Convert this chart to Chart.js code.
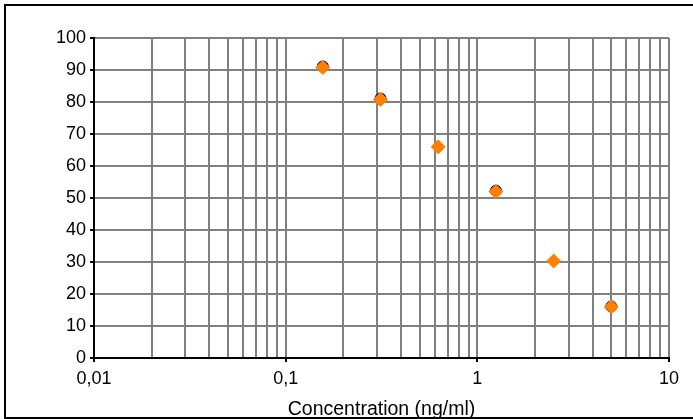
<!DOCTYPE html>
<html>
<head>
<meta charset="utf-8">
<script src="https://cdn.jsdelivr.net/npm/chart.js@4/dist/chart.umd.min.js"></script>
<style>
  body { margin: 0; background: #fff; }
  #frame {
    position: absolute; left: 4px; top: 4px; width: 689px; height: 411px;
    border-top: 2px solid #000; border-left: 2px solid #000; border-bottom: 2px solid #000;
  }
  #chart { position: absolute; left: 0; top: 0; }
</style>
</head>
<body>
<div id="frame"></div>
<canvas id="chart" width="693" height="419"></canvas>
<script>
// concentrations (ng/ml)
var concOrange = [0.15625, 0.3125, 0.625, 1.25, 2.5, 5];
var valuesOrange = [90.8, 80.8, 66.0, 52.0, 30.3, 16.0];
var concBlue = [0.15625, 0.3125, 1.25, 5];
var valuesBlue = [91.1, 81.1, 52.3, 16.1];

// log axis grid positions and labels
var xTickValues = [0.01, 0.02, 0.03, 0.04, 0.05, 0.06, 0.07, 0.08, 0.09,
                   0.1, 0.2, 0.3, 0.4, 0.5, 0.6, 0.7, 0.8, 0.9,
                   1, 2, 3, 4, 5, 6, 7, 8, 9, 10];
var xMajorValues = [0.01, 0.1, 1, 10];
var xMajorLabels = ['0,01', '0,1', '1', '10'];

function toPoints(xs, ys) {
  return xs.map(function(x, i) { return { x: x, y: ys[i] }; });
}

function isMajor(v) {
  return xMajorValues.some(function(m) { return Math.abs(m - v) < 1e-9; });
}

var fontFamily = 'Liberation Sans, Arial, sans-serif';

var ctx = document.getElementById('chart').getContext('2d');
var myChart = new Chart(ctx, {
  type: 'scatter',
  data: {
    // first dataset is drawn on top
    datasets: [{
      label: 'Orange',
      data: toPoints(concOrange, valuesOrange),
      pointStyle: 'rectRot',
      pointRadius: 7,
      pointHoverRadius: 7,
      backgroundColor: '#FF8000',
      borderColor: '#FF8000',
      borderWidth: 1
    }, {
      label: 'Blue',
      data: toPoints(concBlue, valuesBlue),
      pointStyle: 'circle',
      pointRadius: 5.5,
      pointHoverRadius: 5.5,
      backgroundColor: '#3333AA',
      borderColor: '#000080',
      borderWidth: 1
    }]
  },
  options: {
    responsive: false,
    animation: false,
    layout: { padding: { left: 0, top: 38, right: 24, bottom: 0 } },
    plugins: {
      legend: { display: false },
      tooltip: { enabled: false }
    },
    scales: {
      x: {
        type: 'logarithmic',
        position: 'bottom',
        min: 0.01,
        max: 10,
        afterBuildTicks: function(scale) {
          scale.ticks = xTickValues.map(function(v) {
            return { value: v, major: isMajor(v) };
          });
        },
        afterFit: function(scale) { scale.height = 61; },
        ticks: {
          autoSkip: false,
          maxRotation: 0,
          padding: 6,
          color: '#000',
          font: { family: fontFamily, size: 18 },
          callback: function(value) {
            for (var i = 0; i < xMajorValues.length; i++) {
              if (Math.abs(xMajorValues[i] - value) < 1e-9) return xMajorLabels[i];
            }
            return '';
          }
        },
        grid: {
          color: '#808080',
          lineWidth: 2,
          tickLength: 4,
          tickColor: function(c) {
            return c.tick && isMajor(c.tick.value) ? '#000' : 'rgba(0,0,0,0)';
          }
        },
        border: { display: true, color: '#000', width: 2 },
        title: {
          display: true,
          text: 'Concentration (ng/ml)',
          color: '#000',
          font: { family: fontFamily, size: 19.5, lineHeight: 1 },
          padding: { top: 0, bottom: 0 }
        }
      },
      y: {
        min: 0,
        max: 100,
        afterFit: function(scale) { scale.width = 94; },
        ticks: {
          stepSize: 10,
          padding: 4,
          color: '#000',
          font: { family: fontFamily, size: 18 }
        },
        grid: {
          color: '#808080',
          lineWidth: 2,
          tickLength: 4,
          tickColor: '#000'
        },
        border: { display: true, color: '#000', width: 2 }
      }
    }
  }
});
</script>
</body>
</html>
